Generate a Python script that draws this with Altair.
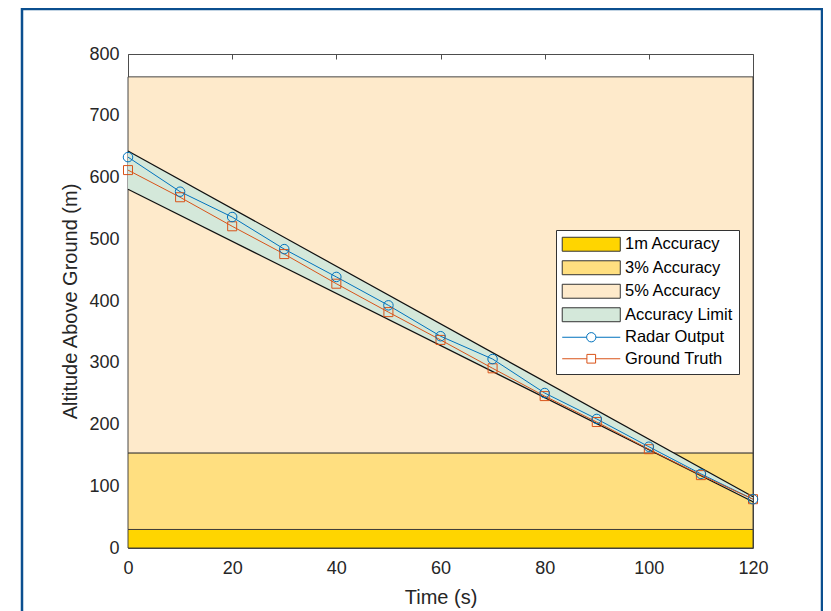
import altair as alt
import pandas as pd

# ---- data ----
time_s = [0, 10, 20, 30, 40, 50, 60, 70, 80, 90, 100, 110, 120]
radar_output = [633, 577, 536, 484, 439, 393, 343, 306, 251, 209, 164, 120, 79]
ground_truth = [612, 568, 521, 476, 428, 382, 337, 291, 246, 204, 160, 118, 79]

limit_time = [0, 120]
limit_upper = [643, 83]
limit_lower = [581, 75]

band_names = ["1m Accuracy", "3% Accuracy", "5% Accuracy"]
band_low = [0, 30, 154]
band_high = [30, 154, 763]
band_t0 = [0, 0, 0]
band_t1 = [120, 120, 120]

legend_names = ["1m Accuracy", "3% Accuracy", "5% Accuracy",
                "Accuracy Limit", "Radar Output", "Ground Truth"]

x_ticks = [0, 20, 40, 60, 80, 100, 120]
y_ticks = [0, 100, 200, 300, 400, 500, 600, 700, 800]

# ---- styling ----
FONT = "Liberation Sans"
TXT = "#262626"
fill_range = ["#FFD500", "#FFDF80", "#FEEACB", "#D4E8DA", "transparent", "transparent"]
stroke_range = ["#333333", "#333333", "#333333", "#333333", "#0072BD", "#D95319"]
# legend glyphs (unit = half symbol height)
RECT = "M-3.87,-0.93H3.87V0.93H-3.87Z"
CIRC = ("M-3.87,0H-0.62M0.62,0H3.87M-0.62,0A0.62,0.62,0,1,1,0.62,0"
        "A0.62,0.62,0,1,1,-0.62,0Z")
SQR = "M-3.87,0H-0.58M0.58,0H3.87M-0.58,-0.58H0.58V0.58H-0.58Z"
shape_range = [RECT, RECT, RECT, RECT, CIRC, SQR]

W, H = 625, 494

x_scale = alt.Scale(domain=[0, 120], nice=False, zero=False)
y_scale = alt.Scale(domain=[0, 800], nice=False)
fill_scale = alt.Scale(domain=legend_names, range=fill_range)
stroke_scale = alt.Scale(domain=legend_names, range=stroke_range)
shape_scale = alt.Scale(domain=legend_names, range=shape_range)

bands_df = pd.DataFrame({"series": band_names, "lo": band_low, "hi": band_high,
                         "t0": band_t0, "t1": band_t1})
lines_df = pd.DataFrame({
    "time": time_s + time_s,
    "alt": radar_output + ground_truth,
    "series": ["Radar Output"] * len(time_s) + ["Ground Truth"] * len(time_s),
})
limit_df = pd.DataFrame({"time": limit_time, "upper": limit_upper,
                         "lower": limit_lower,
                         "series": ["Accuracy Limit"] * len(limit_time)})
legend_df = pd.DataFrame({"series": legend_names})

x_axis_bottom = alt.Axis(values=x_ticks, title="Time (s)", ticks=False, domain=False,
                         grid=False, labelFont=FONT, labelFontSize=18, labelColor=TXT,
                         labelPadding=11, labelFlush=False, titleFont=FONT,
                         titleFontSize=20, titleFontWeight="normal", titleColor=TXT,
                         titlePadding=10)
x_axis_top = alt.Axis(orient="top", values=x_ticks, title=None, labels=False,
                      domain=False, grid=False, ticks=True, tickSize=5,
                      tickColor="#4d4d4d", tickWidth=1, offset=-5)
y_axis = alt.Axis(values=y_ticks, title="Altitude Above Ground (m)", ticks=False,
                  domain=False, grid=False, labelFont=FONT, labelFontSize=18,
                  labelColor=TXT, labelPadding=9, labelFlush=False, titleFont=FONT,
                  titleFontSize=20, titleFontWeight="normal", titleColor=TXT,
                  titlePadding=8)

legend_def = alt.Legend(title=None, orient="none", legendX=428, legendY=176,
                        padding=6, strokeColor="#333333", fillColor="white",
                        labelFont=FONT, labelFontSize=16.5, labelColor="black",
                        symbolSize=225, symbolStrokeWidth=1, symbolOpacity=1,
                        symbolOffset=21, labelOffset=25.5, rowPadding=4.5)

frame = alt.Chart(pd.DataFrame({"k": [0]})).mark_rect(
    filled=False, stroke="#0B4F8F", strokeWidth=2.5
).encode(x=alt.value(-106), x2=alt.value(W + 69), y=alt.value(-45), y2=alt.value(H + 90))

legend_layer = alt.Chart(legend_df).mark_point(filled=True, opacity=1).encode(
    x=alt.value(-600),
    y=alt.value(-600),
    fill=alt.Fill("series:N", scale=fill_scale, legend=legend_def),
    stroke=alt.Stroke("series:N", scale=stroke_scale, legend=legend_def),
    shape=alt.Shape("series:N", scale=shape_scale, legend=legend_def),
)

bands = alt.Chart(bands_df).mark_rect(stroke="#333333", strokeWidth=0.9).encode(
    x=alt.X("t0:Q", scale=x_scale, axis=x_axis_bottom),
    x2="t1:Q",
    y=alt.Y("lo:Q", scale=y_scale, axis=y_axis),
    y2="hi:Q",
    fill=alt.Fill("series:N", scale=fill_scale),
)

area = alt.Chart(limit_df).mark_area(opacity=1).encode(
    x=alt.X("time:Q", scale=x_scale, axis=None),
    y=alt.Y("lower:Q", scale=y_scale),
    y2="upper:Q",
    fill=alt.Fill("series:N", scale=fill_scale),
)

lim_up = alt.Chart(limit_df).mark_line(color="#111111", strokeWidth=1.2).encode(
    x=alt.X("time:Q", scale=x_scale, axis=x_axis_top),
    y=alt.Y("upper:Q", scale=y_scale),
)
lim_lo = alt.Chart(limit_df).mark_line(color="#111111", strokeWidth=1.2).encode(
    x=alt.X("time:Q", scale=x_scale, axis=None),
    y=alt.Y("lower:Q", scale=y_scale),
)

series_lines = alt.Chart(lines_df).mark_line(strokeWidth=1).encode(
    x=alt.X("time:Q", scale=x_scale, axis=None),
    y=alt.Y("alt:Q", scale=y_scale),
    stroke=alt.Stroke("series:N", scale=stroke_scale),
)

gt_pts = alt.Chart(lines_df).transform_filter(
    alt.datum.series == "Ground Truth"
).mark_point(shape="square", size=81, filled=False, opacity=1, strokeWidth=1).encode(
    x=alt.X("time:Q", scale=x_scale, axis=None),
    y=alt.Y("alt:Q", scale=y_scale),
    stroke=alt.Stroke("series:N", scale=stroke_scale),
)

radar_pts = alt.Chart(lines_df).transform_filter(
    alt.datum.series == "Radar Output"
).mark_point(shape="circle", size=90, filled=False, opacity=1, strokeWidth=1).encode(
    x=alt.X("time:Q", scale=x_scale, axis=None),
    y=alt.Y("alt:Q", scale=y_scale),
    stroke=alt.Stroke("series:N", scale=stroke_scale),
)

chart = alt.layer(
    frame, legend_layer, bands, area, lim_up, lim_lo, series_lines, gt_pts, radar_pts
).resolve_axis(x="independent").properties(
    width=W, height=H,
    autosize=alt.AutoSizeParams(type="none"),
    padding={"left": 120, "top": 46, "right": 70, "bottom": 64},
).configure_view(stroke="#4d4d4d", strokeWidth=1)

chart.save("out.html", embed_options={"renderer": "svg", "actions": False})
